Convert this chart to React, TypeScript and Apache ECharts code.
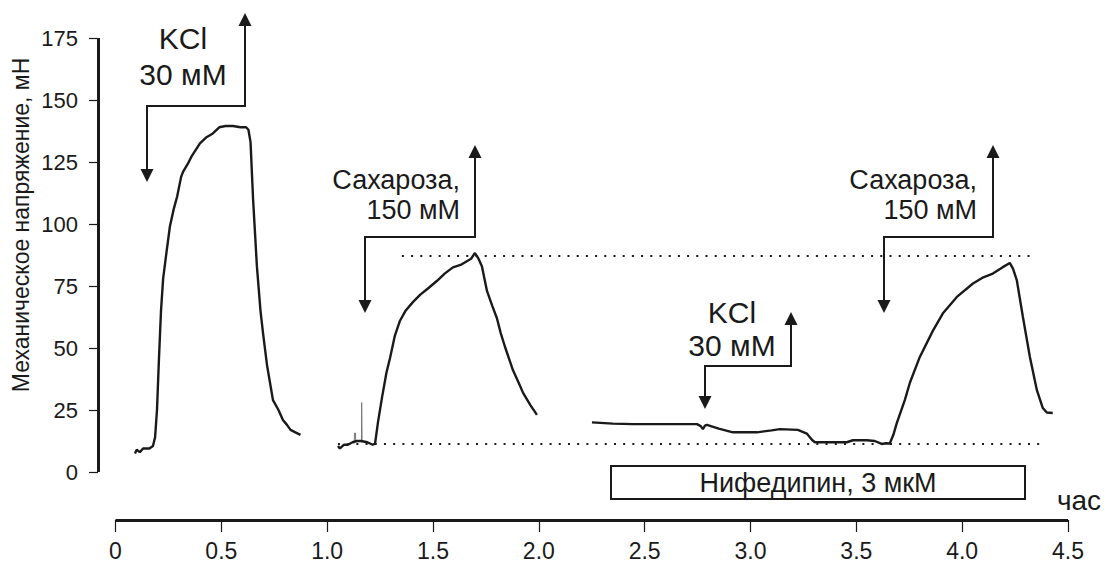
import React, { useEffect, useRef } from "react";
import * as echarts from "echarts";

const FONT = "'Liberation Sans', Arial, Helvetica, sans-serif";
const INK = "#1a1a1a";

// Tension traces (time, h ; force, mN)
const kclTrace: [number, number][] = [
  [0.092, 7.5], [0.1, 9], [0.115, 8], [0.13, 9.5], [0.16, 9.5], [0.177, 10.5],
  [0.187, 14], [0.196, 25], [0.205, 45], [0.215, 65], [0.225, 78], [0.243, 90],
  [0.257, 99], [0.275, 106], [0.291, 111], [0.31, 119], [0.319, 121], [0.34, 124],
  [0.361, 127.5], [0.38, 130], [0.399, 132.5], [0.43, 135], [0.46, 136.5],
  [0.49, 139], [0.52, 139.5], [0.555, 139.5], [0.59, 139], [0.617, 139],
  [0.628, 138], [0.638, 133], [0.65, 110], [0.66, 95], [0.668, 83], [0.685, 65],
  [0.697, 56], [0.716, 43], [0.73, 36], [0.744, 29], [0.77, 25], [0.791, 21],
  [0.81, 19], [0.827, 17], [0.85, 16], [0.874, 15],
];

const sucroseTrace1: [number, number][] = [
  [1.051, 10.5], [1.06, 9.5], [1.08, 11], [1.098, 11], [1.12, 12], [1.14, 12.5],
  [1.16, 12.5], [1.19, 12], [1.215, 11], [1.226, 11.3], [1.24, 20], [1.259, 30],
  [1.28, 40], [1.297, 46], [1.32, 55], [1.344, 61], [1.37, 65], [1.405, 68.5],
  [1.44, 71.5], [1.476, 74], [1.518, 77], [1.555, 80], [1.594, 82.5], [1.63, 83.5],
  [1.66, 85], [1.68, 86], [1.698, 88.3], [1.715, 86], [1.731, 83], [1.755, 73],
  [1.78, 67], [1.802, 62], [1.82, 56], [1.84, 50.5], [1.878, 41], [1.91, 35],
  [1.925, 32], [1.96, 27], [1.991, 23],
];

// Short artefact spikes before the sucrose response
const spikeA: [number, number][] = [[1.128, 11.5], [1.129, 15.7], [1.134, 15.7], [1.135, 12]];
const spikeB: [number, number][] = [[1.162, 12], [1.163, 28], [1.165, 12]];

const nifedipineTrace: [number, number][] = [
  [2.251, 20], [2.35, 19.5], [2.445, 19.3], [2.6, 19.3], [2.747, 19.3], [2.765, 18.5],
  [2.775, 17.3], [2.785, 18.7], [2.794, 19], [2.85, 17.5], [2.917, 16], [3.03, 16],
  [3.1, 16.8], [3.139, 17.3], [3.224, 17], [3.266, 15.5], [3.29, 13], [3.304, 12],
  [3.38, 12], [3.455, 12], [3.484, 12.8], [3.55, 12.8], [3.587, 12.5], [3.62, 11.3],
  [3.64, 11.6], [3.658, 11.5], [3.675, 15], [3.691, 19.7], [3.729, 29], [3.753, 36],
  [3.8, 46.4], [3.862, 57], [3.909, 64], [3.975, 70.6], [4.051, 76], [4.1, 78.5],
  [4.145, 80], [4.19, 82.5], [4.225, 84.3], [4.24, 82], [4.258, 77.4], [4.287, 62.5],
  [4.32, 46.4], [4.353, 33], [4.381, 25.8], [4.4, 24], [4.428, 23.8],
];

// Reference levels: sucrose peak and baseline
const peakLevel: [number, number][] = [[1.353, 87.1], [4.343, 87.1]];
const baseLevel: [number, number][] = [[1.051, 11.3], [4.367, 11.3]];

const xTickLabels = ["0", "0.5", "1.0", "1.5", "2.0", "2.5", "3.0", "3.5", "4.0", "4.5"];
const yTickValues = [0, 25, 50, 75, 100, 125, 150, 175];

function arrowPair(xDown: number, tipDown: number, xUp: number, tipUp: number, yBar: number) {
  const head = 13;
  const half = 6.5;
  const stroke = { stroke: INK, lineWidth: 2, fill: null };
  return [
    {
      type: "polyline",
      shape: { points: [[xDown, tipDown - head + 1], [xDown, yBar], [xUp, yBar], [xUp, tipUp + head - 1]] },
      style: stroke,
    },
    {
      type: "polygon",
      shape: { points: [[xDown - half, tipDown - head], [xDown + half, tipDown - head], [xDown, tipDown]] },
      style: { fill: INK },
    },
    {
      type: "polygon",
      shape: { points: [[xUp - half, tipUp + head], [xUp + half, tipUp + head], [xUp, tipUp]] },
      style: { fill: INK },
    },
  ];
}

function label(text: string, x: number, y: number, size: number, align = "center") {
  return {
    type: "text",
    x,
    y,
    style: { text, fill: INK, font: `${size}px ${FONT}`, textAlign: align, textVerticalAlign: "middle" },
  };
}

export default function App() {
  const ref = useRef<HTMLDivElement>(null);

  useEffect(() => {
    if (!ref.current) return;
    const chart = echarts.init(ref.current, null, { renderer: "svg" });

    const traceStyle = { color: INK, width: 2.4 };
    const dotted = { color: INK, width: 2, type: [2, 7.2] as any };

    chart.setOption({
      animation: false,
      backgroundColor: "#ffffff",
      grid: { left: 115.5, right: 38, top: 38, bottom: 95 },
      xAxis: {
        type: "value",
        min: 0,
        max: 4.5,
        interval: 0.5,
        offset: 48,
        splitLine: { show: false },
        axisLine: { show: true, onZero: false, lineStyle: { color: INK, width: 3, cap: "butt" } },
        axisTick: { show: true, length: 12, lineStyle: { color: INK, width: 1.2 } },
        axisLabel: {
          margin: 19,
          fontSize: 23,
          fontFamily: FONT,
          color: INK,
          formatter: (v: number) => xTickLabels[Math.round(v / 0.5)] ?? "",
        },
      },
      yAxis: {
        type: "value",
        min: 0,
        max: 175,
        interval: 25,
        offset: 17.5,
        splitLine: { show: false },
        axisLine: { show: true, onZero: false, lineStyle: { color: INK, width: 3, cap: "butt" } },
        axisTick: { show: true, length: 9, lineStyle: { color: INK, width: 1.2 } },
        axisLabel: {
          margin: 20,
          fontSize: 22,
          fontFamily: FONT,
          color: INK,
          formatter: (v: number) => (yTickValues.includes(v) ? String(v) : ""),
        },
      },
      series: [
        { type: "line", data: peakLevel, showSymbol: false, lineStyle: dotted, z: 1 },
        { type: "line", data: baseLevel, showSymbol: false, lineStyle: dotted, z: 1 },
        { type: "line", data: spikeA, showSymbol: false, lineStyle: { color: "#777", width: 1 } },
        { type: "line", data: spikeB, showSymbol: false, lineStyle: { color: "#777", width: 1 } },
        { type: "line", data: kclTrace, showSymbol: false, lineStyle: traceStyle, z: 3 },
        { type: "line", data: sucroseTrace1, showSymbol: false, lineStyle: traceStyle, z: 3 },
        { type: "line", data: nifedipineTrace, showSymbol: false, lineStyle: traceStyle, z: 3 },
      ],
      graphic: [
        {
          type: "text",
          x: 21,
          y: 225,
          rotation: Math.PI / 2,
          style: {
            text: "Механическое напряжение, мН",
            fill: INK,
            font: `23px ${FONT}`,
            textAlign: "center",
            textVerticalAlign: "middle",
          },
        },
        ...arrowPair(147, 182, 245, 13, 106),
        label("KCl", 183, 38, 30),
        label("30 мМ", 183, 74, 30),
        ...arrowPair(365, 313, 475, 145, 237),
        label("Сахароза,", 460, 180, 27, "right"),
        label("150 мМ", 460, 210, 27, "right"),
        ...arrowPair(705, 409, 791, 312, 366),
        label("KCl", 732, 312, 30),
        label("30 мМ", 732, 345, 30),
        ...arrowPair(884, 313, 993, 145, 237),
        label("Сахароза,", 977, 180, 27, "right"),
        label("150 мМ", 977, 210, 27, "right"),
        {
          type: "rect",
          shape: { x: 611, y: 466, width: 414, height: 33 },
          style: { fill: "#ffffff", stroke: INK, lineWidth: 2 },
        },
        label("Нифедипин, 3 мкМ", 818, 483, 27),
        label("час", 1079, 500, 28),
      ],
    });

    return () => chart.dispose();
  }, []);

  return (
    <div
      ref={ref}
      style={{ position: "fixed", left: 0, top: 0, width: 1106, height: 567, background: "#fff" }}
    />
  );
}
